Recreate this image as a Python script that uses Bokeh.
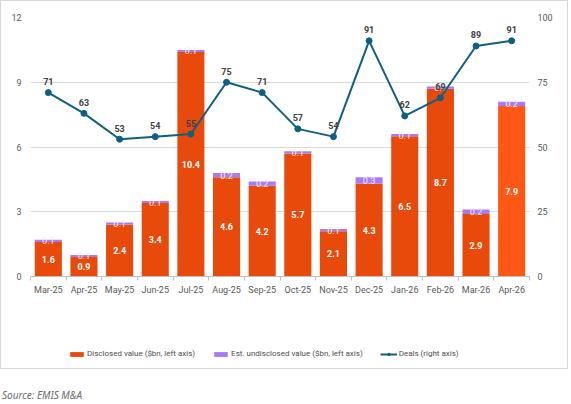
import numpy as np
from bokeh.plotting import figure
from bokeh.models import (ColumnDataSource, Range1d, LinearAxis, FixedTicker,
                          Legend, LegendItem, Div)
from bokeh.layouts import column
from bokeh.core.properties import value
from bokeh.embed import file_html
from bokeh.resources import INLINE

months = ["Mar-25", "Apr-25", "May-25", "Jun-25", "Jul-25", "Aug-25", "Sep-25",
          "Oct-25", "Nov-25", "Dec-25", "Jan-26", "Feb-26", "Mar-26", "Apr-26"]
disclosed = [1.6, 0.9, 2.4, 3.4, 10.4, 4.6, 4.2, 5.7, 2.1, 4.3, 6.5, 8.7, 2.9, 7.9]
undisclosed = [0.1, 0.1, 0.1, 0.1, 0.1, 0.2, 0.2, 0.1, 0.1, 0.3, 0.1, 0.1, 0.2, 0.2]
deals = [71, 63, 53, 54, 55, 75, 71, 57, 54, 91, 62, 69, 89, 91]
left_ticks = [0, 3, 6, 9, 12]
right_ticks = [0, 25, 50, 75, 100]
series_names = ["Disclosed value ($bn, left axis)",
                "Est. undisclosed value ($bn, left axis)",
                "Deals (right axis)"]

FONT = "Roboto"
ORANGE = "#E84A0C"
ORANGE_LAST = "#FF5716"
PURPLE = "#A87BF2"
LINE = "#0E5F80"
GRAY = "#595959"

n = len(months)
x = np.arange(n)
d = np.array(disclosed)
u = np.array(undisclosed)
src = ColumnDataSource(dict(
    x=x, d=d, top=d + u, dmid=d / 2, umid=d + u / 2,
    dlab=[f"{v:.1f}" for v in d], ulab=[f"{v:.1f}" for v in u],
    color=[ORANGE] * (n - 1) + [ORANGE_LAST],
    deals=deals, deal_lab=[str(v) for v in deals],
))

p = figure(width=566, height=300,
           x_range=Range1d(-0.5, n - 0.5), y_range=Range1d(0, 12),
           output_backend="svg", toolbar_location=None,
           min_border_left=29, min_border_right=38, min_border_top=16,
           min_border_bottom=25, outline_line_color=None)
p.extra_y_ranges = {"deals": Range1d(0, 100)}

# axes
xa = p.xaxis[0]
xa.ticker = FixedTicker(ticks=list(range(n)), minor_ticks=[i - 0.5 for i in range(n + 1)])
xa.major_label_overrides = {i: m for i, m in enumerate(months)}
xa.major_tick_line_color = None
xa.major_tick_out = 0
xa.major_tick_in = 0
xa.minor_tick_line_color = "#bfbfbf"
xa.minor_tick_out = 4
xa.minor_tick_in = 0
xa.axis_line_color = "#bfbfbf"
xa.major_label_standoff = 4
xa.major_label_text_font = FONT
xa.major_label_text_font_size = "9px"
xa.major_label_text_color = GRAY

ya = p.yaxis[0]
ya.ticker = FixedTicker(ticks=left_ticks)
ya.axis_line_color = None
ya.major_tick_line_color = None
ya.minor_tick_line_color = None
ya.major_tick_out = 0
ya.major_label_standoff = 9
ya.major_label_text_font = FONT
ya.major_label_text_font_size = "9px"
ya.major_label_text_color = GRAY

ra = LinearAxis(y_range_name="deals", ticker=FixedTicker(ticks=right_ticks))
ra.axis_line_color = None
ra.major_tick_line_color = None
ra.minor_tick_line_color = None
ra.major_tick_out = 0
ra.major_label_standoff = 8
ra.major_label_text_font = FONT
ra.major_label_text_font_size = "9px"
ra.major_label_text_color = GRAY
p.add_layout(ra, "right")

p.xgrid.visible = False
p.ygrid.grid_line_color = "#d9d9d9"
p.ygrid.grid_line_width = 1

# bars
p.vbar(x="x", bottom=0, top="d", width=0.76, fill_color="color",
       line_color=None, source=src)
p.vbar(x="x", bottom="d", top="top", width=0.76, fill_color=PURPLE,
       line_color=None, source=src)

# bar labels
p.text(x="x", y="dmid", text="dlab", source=src, text_align="center",
       text_baseline="middle", text_color="white", text_font=value(FONT),
       text_font_size="9px", text_font_style="bold")
p.text(x="x", y="umid", text="ulab", source=src, text_align="center",
       text_baseline="middle", text_color="#ffebe7", text_font=value(FONT),
       text_font_size="9px")

# deals line
p.line(x="x", y="deals", source=src, y_range_name="deals",
       line_color=LINE, line_width=2)
p.scatter(x="x", y="deals", source=src, y_range_name="deals", size=6,
          fill_color=LINE, line_color=LINE)
p.text(x="x", y="deals", text="deal_lab", source=src, y_range_name="deals",
       y_offset=-11, text_align="center", text_baseline="middle",
       text_color="#404040", text_font=value(FONT), text_font_size="9px",
       text_font_style="bold")

# legend strip (separate canvas below the plot so it is not clipped);
# its renderers reuse the same data but are hidden, only their legend glyphs show
lg = figure(width=566, height=67, x_range=Range1d(-0.5, n - 0.5), y_range=Range1d(0, 12),
            output_backend="svg", toolbar_location=None,
            x_axis_location=None, y_axis_location=None,
            min_border=0, outline_line_color=None)
lg.xgrid.visible = False
lg.ygrid.visible = False
l1 = lg.vbar(x="x", top="d", width=0.76, fill_color=ORANGE, line_color=None,
             source=src, visible=False)
l2 = lg.vbar(x="x", bottom="d", top="top", width=0.76, fill_color=PURPLE,
             line_color=None, source=src, visible=False)
l3 = lg.line(x="x", y="deals", line_color=LINE, line_width=2, source=src, visible=False)
l4 = lg.scatter(x="x", y="deals", size=5, fill_color=LINE, line_color=LINE,
                source=src, visible=False)

legend = Legend(items=[
    LegendItem(label=series_names[0], renderers=[l1]),
    LegendItem(label=series_names[1], renderers=[l2]),
    LegendItem(label=series_names[2], renderers=[l3, l4]),
], orientation="horizontal", location=(38, 10), border_line_color=None,
    background_fill_alpha=0, label_text_font=FONT, label_text_font_size="8px",
    label_text_color="#4d4d4d", glyph_width=17, glyph_height=6, spacing=17,
    label_standoff=2, padding=0, margin=0, label_height=8)
lg.add_layout(legend)

framed = column(p, lg, spacing=0, styles={"border": "1px solid #d9d9d9"})

src_div = Div(text="Source: EMIS M&A", width=300, height=10,
              margin=(21, 0, 0, 2),
              styles={"font-family": "Noto Sans", "font-style": "italic",
                      "font-size": "10px", "color": "#6b6b6b", "line-height": "10px"})

layout = column(framed, src_div, spacing=0)
open("out.html", "w").write(file_html(layout, INLINE))
